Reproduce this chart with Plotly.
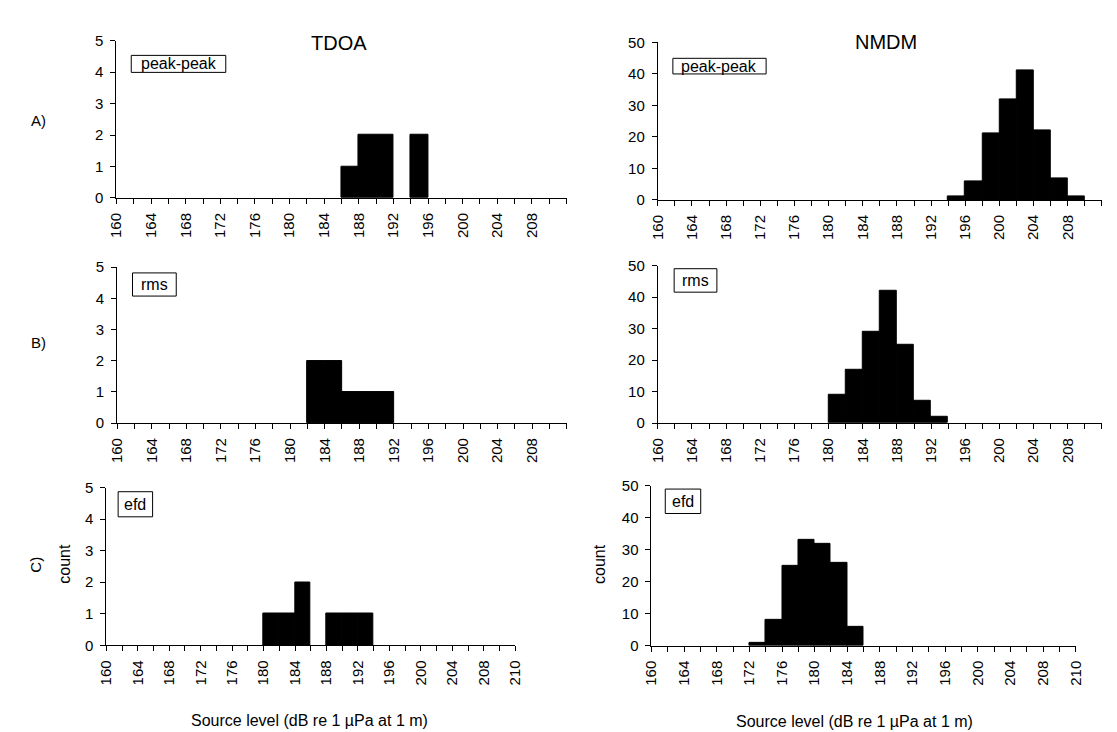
import plotly.graph_objects as go

W, H = 1117, 732

# ---------------- data (bin left edges in dB, counts) ----------------
tick_positions = list(range(160, 213, 2))
top_tick_labels = [str(v) if (v - 160) % 4 == 0 and v <= 208 else "" for v in tick_positions]
bottom_tick_labels = top_tick_labels[:-1] + ["210"]

tdoa_pp_bins = [186, 188, 190, 194]
tdoa_pp_counts = [1, 2, 2, 2]

nmdm_pp_bins = [194, 196, 198, 200, 202, 204, 206, 208]
nmdm_pp_counts = [1, 6, 21, 32, 41, 22, 7, 1]

tdoa_rms_bins = [182, 184, 186, 188, 190]
tdoa_rms_counts = [2, 2, 1, 1, 1]

nmdm_rms_bins = [180, 182, 184, 186, 188, 190, 192]
nmdm_rms_counts = [9, 17, 29, 42, 25, 7, 2]

tdoa_efd_bins = [180, 182, 184, 188, 190, 192]
tdoa_efd_counts = [1, 1, 2, 1, 1, 1]

nmdm_efd_bins = [172, 174, 176, 178, 180, 182, 184]
nmdm_efd_counts = [1, 8, 25, 33, 32, 26, 6]

column_titles = ["TDOA", "NMDM"]
row_labels = ["A)", "B)", "C)"]
metric_labels = ["peak-peak", "rms", "efd"]
x_title = "Source level (dB re 1 µPa at 1 m)"
y_title = "count"

# ---------------- layout (pixel positions) ----------------
FONT = "Liberation Sans, Arial, sans-serif"
panels = [
    dict(bins=tdoa_pp_bins, counts=tdoa_pp_counts, xd=(101, 558), yd=(24.3, 185.3), ymax=5, dtick=1,
         labels=top_tick_labels, box=(116, 212, 39.3, 56.7), metric=metric_labels[0]),
    dict(bins=nmdm_pp_bins, counts=nmdm_pp_counts, xd=(650.7, 1101.7), yd=(26, 187.3), ymax=50, dtick=10,
         labels=top_tick_labels, box=(666, 760.7, 42.3, 58.3), metric=metric_labels[0]),
    dict(bins=tdoa_rms_bins, counts=tdoa_rms_counts, xd=(101.7, 558.3), yd=(256, 415.7), ymax=5, dtick=1,
         labels=top_tick_labels, box=(117.3, 161.7, 262, 285.7), metric=metric_labels[1]),
    dict(bins=nmdm_rms_bins, counts=nmdm_rms_counts, xd=(650.7, 1101.7), yd=(254.7, 415.7), ymax=50, dtick=10,
         labels=top_tick_labels, box=(667.3, 710.7, 257.7, 281.7), metric=metric_labels[1]),
    dict(bins=tdoa_efd_bins, counts=tdoa_efd_counts, xd=(90.7, 506), yd=(481.7, 643.3), ymax=5, dtick=1,
         labels=bottom_tick_labels, box=(102.7, 137.7, 486, 511.7), metric=metric_labels[2]),
    dict(bins=nmdm_efd_bins, counts=nmdm_efd_counts, xd=(644.3, 1075), yd=(480, 643.7), ymax=50, dtick=10,
         labels=bottom_tick_labels, box=(658.3, 694.3, 483.3, 508.3), metric=metric_labels[2]),
]

fig = go.Figure()
shapes = []
annotations = []
layout_axes = {}

for i, p in enumerate(panels, start=1):
    xa = "x" if i == 1 else f"x{i}"
    ya = "y" if i == 1 else f"y{i}"
    fig.add_trace(go.Bar(
        x=p["bins"], y=p["counts"], width=2, offset=0,
        marker=dict(color="black", line=dict(color="black", width=1)),
        xaxis=xa, yaxis=ya, showlegend=False, hoverinfo="skip",
    ))
    axis_common = dict(
        showgrid=False, zeroline=False, showline=True, linecolor="black", linewidth=1,
        ticks="outside", ticklen=5, tickwidth=1, tickcolor="black",
        tickfont=dict(family=FONT, size=15, color="black"), fixedrange=True,
    )
    layout_axes["xaxis" if i == 1 else f"xaxis{i}"] = dict(
        domain=[p["xd"][0] / W, p["xd"][1] / W], anchor=ya, range=[160, 212],
        tickmode="array", tickvals=tick_positions, ticktext=p["labels"], tickangle=-90,
        ticklabelstandoff=3, **axis_common,
    )
    layout_axes["yaxis" if i == 1 else f"yaxis{i}"] = dict(
        domain=[1 - p["yd"][1] / H, 1 - p["yd"][0] / H], anchor=xa, range=[0, p["ymax"]],
        tickmode="linear", tick0=0, dtick=p["dtick"], ticklabelstandoff=4, **axis_common,
    )
    x0, x1, y0, y1 = p["box"]
    shapes.append(dict(type="rect", xref="paper", yref="paper",
                       x0=x0 / W, x1=x1 / W, y0=1 - y1 / H, y1=1 - y0 / H,
                       line=dict(color="black", width=1), fillcolor="white", layer="above"))
    annotations.append(dict(text=p["metric"], x=(x0 + x1) / 2 / W, y=1 - (y0 + y1) / 2 / H,
                            xref="paper", yref="paper", xanchor="center", yanchor="middle",
                            showarrow=False, font=dict(family=FONT, size=16, color="black")))


def txt(text, px, py, size=14, angle=0):
    annotations.append(dict(text=text, x=px / W, y=1 - py / H, xref="paper", yref="paper",
                            xanchor="center", yanchor="middle", showarrow=False, textangle=angle,
                            font=dict(family=FONT, size=size, color="black")))


txt(column_titles[0], 326.7, 26.5, size=20)
txt(column_titles[1], 882, 26, size=20)
txt(row_labels[0], 22, 106, size=15)
txt(row_labels[1], 22, 333, size=15)
txt(row_labels[2], 19, 561, size=15, angle=-90)
txt(y_title, 48.5, 560, size=16, angle=-90)
txt(y_title, 592, 560, size=16, angle=-90)
txt(x_title, 297, 720, size=16)
txt(x_title, 850, 721, size=16)

fig.update_layout(
    width=W, height=H, margin=dict(l=0, r=0, t=0, b=0),
    paper_bgcolor="white", plot_bgcolor="white", bargap=0,
    shapes=shapes, annotations=annotations, **layout_axes,
)

fig.write_html("out.html")
